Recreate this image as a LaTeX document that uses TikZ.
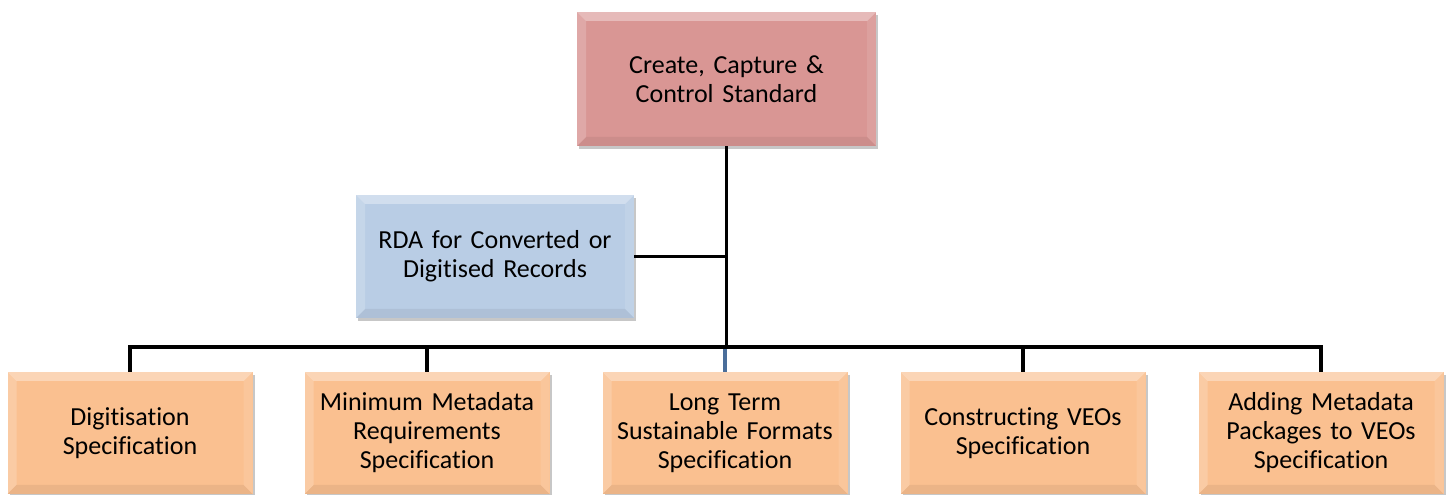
\documentclass[tikz,border=0pt]{standalone}
\usepackage{fontspec}
\setmainfont[Ligatures=NoCommon]{Carlito}
\usetikzlibrary{shadows}

\definecolor{rosefill}{HTML}{D99694}
\definecolor{bluefill}{HTML}{B9CDE5}
\definecolor{orangefill}{HTML}{FAC090}
\definecolor{linkblue}{HTML}{4A6E9A}

\tikzset{
  % raised box: flat fill, light top/left bevel, darker right/bottom bevel, soft shadow
  raised/.style={
    draw=none, fill=#1, align=center, inner ysep=0pt, inner xsep=6pt,
    font=\fontsize{26}{29}\selectfont,
    drop shadow={shadow xshift=2pt, shadow yshift=-3pt, opacity=0.22, fill=black},
    path picture={
      \fill[white,opacity=0.35]
        (path picture bounding box.north west) -- (path picture bounding box.north east)
        -- ([shift={(-9pt,-9pt)}]path picture bounding box.north east)
        -- ([shift={(9pt,-9pt)}]path picture bounding box.north west) -- cycle;
      \fill[white,opacity=0.18]
        (path picture bounding box.north west) -- ([shift={(9pt,-9pt)}]path picture bounding box.north west)
        -- ([shift={(9pt,9pt)}]path picture bounding box.south west)
        -- (path picture bounding box.south west) -- cycle;
      \fill[white,opacity=0.10]
        (path picture bounding box.north east) -- (path picture bounding box.south east)
        -- ([shift={(-9pt,9pt)}]path picture bounding box.south east)
        -- ([shift={(-9pt,-9pt)}]path picture bounding box.north east) -- cycle;
      \fill[black,opacity=0.06]
        (path picture bounding box.south west) -- (path picture bounding box.south east)
        -- ([shift={(-9pt,9pt)}]path picture bounding box.south east)
        -- ([shift={(9pt,9pt)}]path picture bounding box.south west) -- cycle;
    }},
  topbox/.style={raised=rosefill, minimum width=299pt, minimum height=134pt, text width=285pt},
  sidebox/.style={raised=bluefill, minimum width=278pt, minimum height=123pt, text width=265pt},
  specbox/.style={raised=orangefill, minimum width=245pt, minimum height=122pt, text width=233pt},
  link/.style={line width=3.5pt, black},
}

\begin{document}
\begin{tikzpicture}[x=1pt,y=1pt]
  \useasboundingbox (0,0) rectangle (1453,495);
  \fill[white] (0,0) rectangle (1453,495);

  \coordinate (bus) at (0,148);

  \path (726.5,416) coordinate (topc) (495,238.5) coordinate (rdac);
  \path (130,62) coordinate (c1) (427,62) coordinate (c2) (725,62) coordinate (c3)
        (1023,62) coordinate (c4) (1321,62) coordinate (c5);

  \node[topbox]  (top) at (topc) {Create, Capture \&\\Control Standard};
  \node[sidebox] (rda) at (rdac) {RDA for Converted or\\Digitised Records};
  \node[specbox] (d1) at (c1) {Digitisation\\Specification};
  \node[specbox] (d2) at (c2) {Minimum Metadata\\Requirements\\Specification};
  \node[specbox] (d3) at (c3) {Long Term\\Sustainable Formats\\Specification};
  \node[specbox] (d4) at (c4) {Constructing VEOs\\Specification};
  \node[specbox] (d5) at (c5) {Adding Metadata\\Packages to VEOs\\Specification};

  % trunk, side branch and distribution bus
  \draw[link] (top.south) -- (top.south |- bus);
  \draw[link] (rda.east) -- (rda.east -| top.south);
  \draw[link] (d1.north) |- (bus -| d5.north) -- (d5.north);
  \draw[link] (d2.north) -- (d2.north |- bus);
  \draw[link] (d4.north) -- (d4.north |- bus);
  \draw[link, linkblue] (d3.north) -- ([yshift=-1.75pt]d3.north |- bus);
\end{tikzpicture}
\end{document}
